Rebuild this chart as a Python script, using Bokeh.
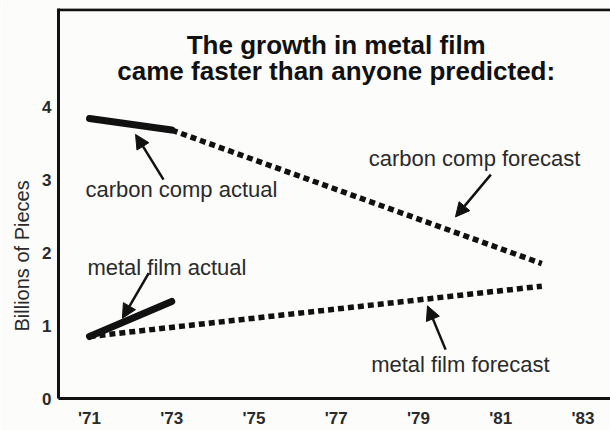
from bokeh.plotting import figure
from bokeh.models import Range1d, FixedTicker, Span, Label, Arrow, NormalHead, Title
from bokeh.embed import file_html
from bokeh.resources import INLINE

# ---- data ----
cc_actual_years = [1971, 1973]
cc_actual_vals = [3.84, 3.68]
cc_forecast_years = [1973, 1982]
cc_forecast_vals = [3.68, 1.85]
mf_actual_years = [1971, 1973]
mf_actual_vals = [0.85, 1.33]
mf_forecast_years = [1971, 1982]
mf_forecast_vals = [0.85, 1.54]

x_ticks = [1971, 1973, 1975, 1977, 1979, 1981, 1983]
x_tick_labels = ["'71", "'73", "'75", "'77", "'79", "'81", "'83"]
y_ticks = [0, 1, 2, 3, 4]

title_lines = ["The growth in metal film", "came faster than anyone predicted:"]
y_title = "Billions of Pieces"

BG = "#fcfcfa"
INK = "#111111"
TXT = "#2a2a2a"

p = figure(width=610, height=430, output_backend="svg", toolbar_location=None,
           x_range=Range1d(1970.246, 1983.67), y_range=Range1d(0, 5.347),
           min_border_left=58, min_border_right=0, min_border_top=8, min_border_bottom=25)
p.background_fill_color = BG
p.border_fill_color = BG
p.outline_line_color = None
p.grid.visible = False

for ax in (p.xaxis, p.yaxis):
    ax.axis_line_width = 3
    ax.axis_line_color = INK
    ax.major_tick_line_color = None
    ax.minor_tick_line_color = None
    ax.major_label_text_font = "Liberation Sans"
    ax.major_label_text_font_style = "bold"
    ax.major_label_text_font_size = "17px"
    ax.major_label_text_color = TXT

p.xaxis.ticker = FixedTicker(ticks=x_ticks)
p.xaxis.major_label_overrides = dict(zip(x_ticks, x_tick_labels))
p.xaxis.major_label_standoff = 4
p.yaxis.ticker = FixedTicker(ticks=y_ticks)
p.yaxis.major_tick_out = 0
p.yaxis.major_tick_in = 0
p.yaxis.major_label_standoff = 7

# y axis title on the left, placed lower than centre
p.add_layout(Title(text=y_title, align="left", offset=67, standoff=14,
                   text_font="Liberation Sans", text_font_style="normal",
                   text_font_size="20px", text_color=TXT), "left")

# top border
p.add_layout(Span(location=5.33, dimension="width", line_color=INK, line_width=3))

# lines
p.line(cc_forecast_years, cc_forecast_vals, line_color=INK, line_width=5.5,
       line_dash="6 4", line_cap="butt")
p.line(mf_forecast_years, mf_forecast_vals, line_color=INK, line_width=5.5,
       line_dash="6 4", line_cap="butt")
p.line(cc_actual_years, cc_actual_vals, line_color=INK, line_width=7, line_cap="round")
p.line(mf_actual_years, mf_actual_vals, line_color=INK, line_width=7, line_cap="round")

# title inside plot
p.add_layout(Label(x=1977.0, y=4.84, text=title_lines[0], text_align="center",
                   text_baseline="middle", text_font="Liberation Sans",
                   text_font_style="bold", text_font_size="26px", text_color=INK))
p.add_layout(Label(x=1977.0, y=4.49, text=title_lines[1], text_align="center",
                   text_baseline="middle", text_font="Liberation Sans",
                   text_font_style="bold", text_font_size="26px", text_color=INK))

# annotation labels
ann = [
    ("carbon comp actual", 1970.9, 2.87),
    ("carbon comp forecast", 1977.79, 3.29),
    ("metal film actual", 1970.95, 1.80),
    ("metal film forecast", 1977.85, 0.46),
]
for t, x, y in ann:
    p.add_layout(Label(x=x, y=y, text=t, text_align="left", text_baseline="middle",
                       text_font="Liberation Sans", text_font_size="22px",
                       text_color=TXT))

arrows = [
    (1972.8, 3.0, 1972.12, 3.62),
    (1980.76, 3.07, 1979.9, 2.49),
    (1972.44, 1.72, 1971.8, 1.10),
    (1979.66, 0.67, 1979.22, 1.27),
]
for xs, ys, xe, ye in arrows:
    p.add_layout(Arrow(x_start=xs, y_start=ys, x_end=xe, y_end=ye, line_width=2.5,
                       line_color=INK,
                       end=NormalHead(size=14, fill_color=INK, line_color=INK)))

open("out.html", "w").write(file_html(p, INLINE))
